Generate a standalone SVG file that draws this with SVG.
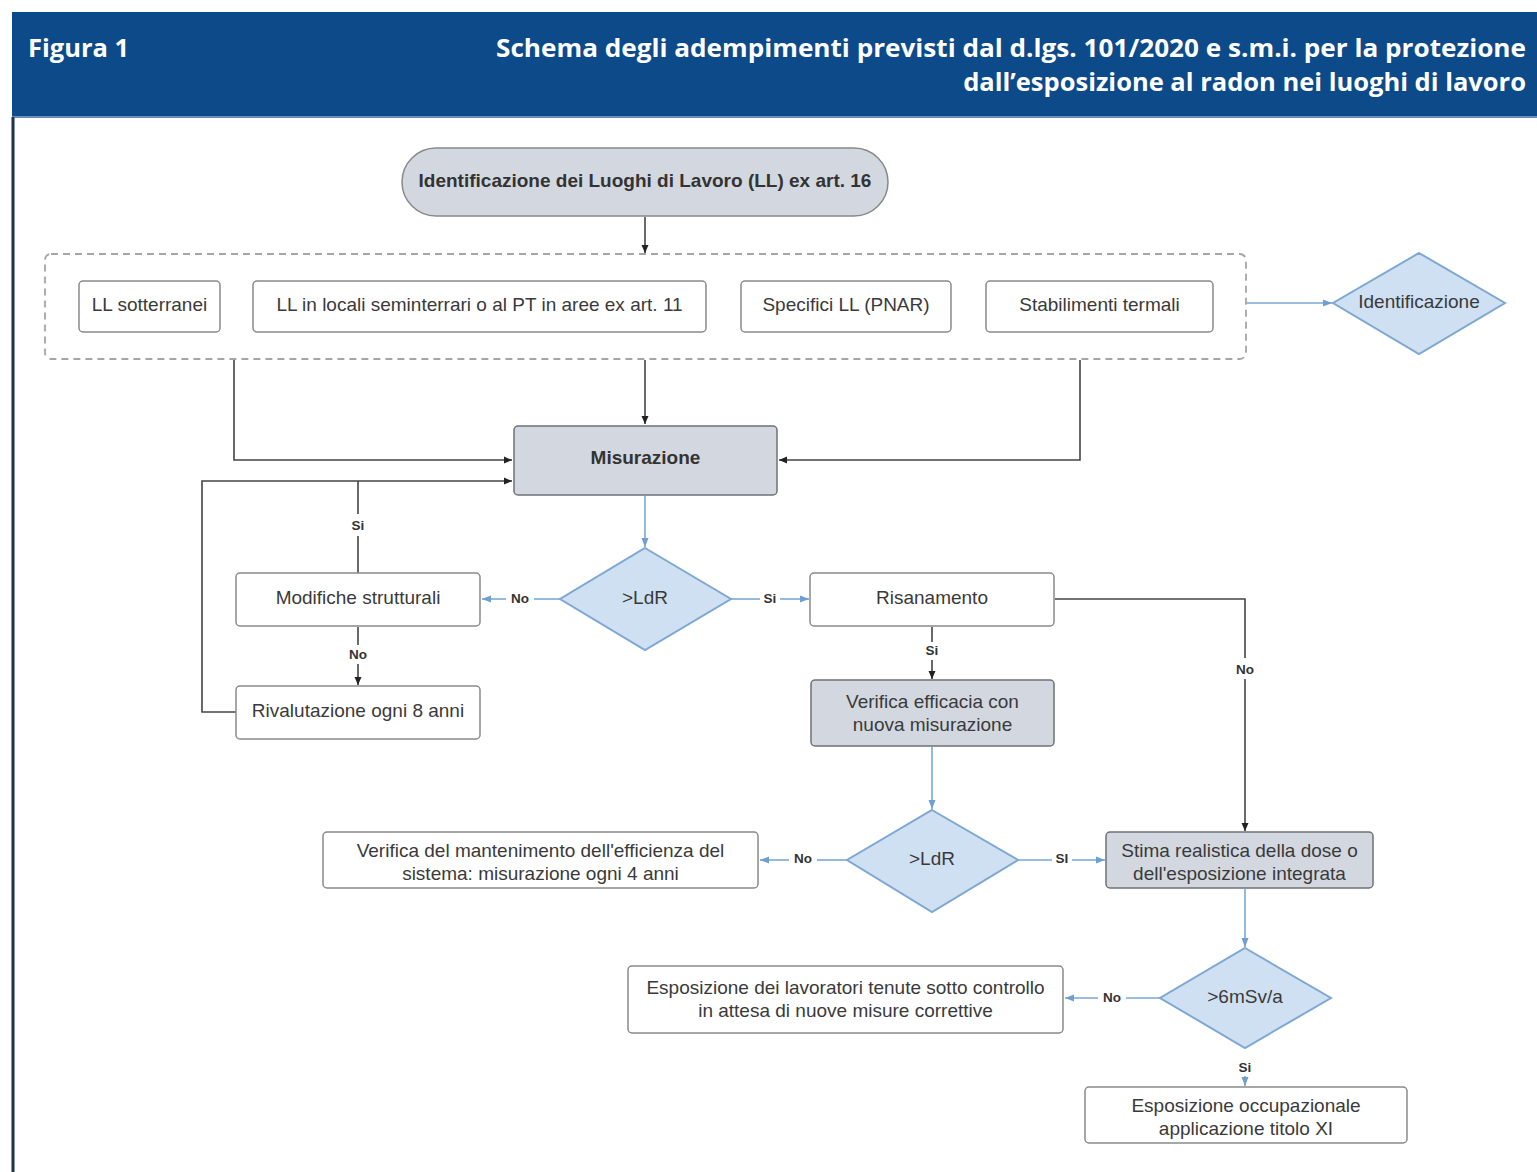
<svg xmlns="http://www.w3.org/2000/svg" width="1537" height="1172" viewBox="0 0 1537 1172">
<defs>
<marker id="ab" markerWidth="10" markerHeight="10" refX="9" refY="5" orient="auto" markerUnits="userSpaceOnUse"><path d="M1,1.5 L9,5 L1,8.5 Z" fill="#222"/></marker>
<marker id="abl" markerWidth="12" markerHeight="10" refX="10" refY="5" orient="auto" markerUnits="userSpaceOnUse"><path d="M1,1.5 L10,5 L1,8.5 Z" fill="#6d9fcf"/></marker>
</defs>
<style>
.box{fill:#fff;stroke:#8a8a8a;stroke-width:1.5}
.gbox{fill:#d3d8e0;stroke:#6e7175;stroke-width:1.5}
.dia{fill:#cfe0f2;stroke:#7ea8d2;stroke-width:2}
.t{font-family:"Liberation Sans",Arial,sans-serif;font-size:19px;fill:#3a3a3a;text-anchor:middle}
.tb{font-family:"Liberation Sans",Arial,sans-serif;font-size:19px;font-weight:bold;fill:#333;text-anchor:middle}
.lb{font-family:"Liberation Sans",Arial,sans-serif;font-size:13.5px;font-weight:bold;fill:#333;text-anchor:middle}
.k{fill:none;stroke:#444;stroke-width:1.6}
.b{fill:none;stroke:#7aa9d6;stroke-width:1.6}
.h{font-family:"Open Sans","Noto Sans",sans-serif;font-weight:bold;font-size:25.5px;fill:#fff}
</style>
<rect width="1537" height="1172" fill="#fff"/>
<rect x="12" y="12" width="1525" height="105" fill="#0c4a8a"/>
<line x1="12" y1="117" x2="1537" y2="117" stroke="#6b8fb8" stroke-width="2"/>
<line x1="13" y1="117" x2="13" y2="1172" stroke="#1c3350" stroke-width="3"/>
<text class="h" x="28" y="57">Figura 1</text>
<text class="h" x="1526" y="57" text-anchor="end" textLength="1030" lengthAdjust="spacingAndGlyphs">Schema degli adempimenti previsti dal d.lgs. 101/2020 e s.m.i. per la protezione</text>
<text class="h" x="1526" y="91" text-anchor="end">dall’esposizione al radon nei luoghi di lavoro</text>

<g id="connectors">
<line class="k" x1="645" y1="217" x2="645" y2="253" marker-end="url(#ab)"/>
<line class="b" x1="1247" y1="303" x2="1332" y2="303" marker-end="url(#abl)"/>
<polyline class="k" points="234,360 234,460 512,460" marker-end="url(#ab)"/>
<line class="k" x1="645" y1="360" x2="645" y2="424" marker-end="url(#ab)"/>
<polyline class="k" points="1080,360 1080,460 779,460" marker-end="url(#ab)"/>
<polyline class="k" points="236,712 202,712 202,481 512,481" marker-end="url(#ab)"/>
<line class="k" x1="358" y1="573" x2="358" y2="536"/>
<line class="k" x1="358" y1="514" x2="358" y2="481"/>
<text class="lb" x="358" y="530">Si</text>
<line class="b" x1="645" y1="496" x2="645" y2="547" marker-end="url(#abl)"/>
<line class="b" x1="560" y1="599" x2="534" y2="599"/>
<line class="b" x1="506" y1="599" x2="482" y2="599" marker-end="url(#abl)"/>
<text class="lb" x="520" y="603">No</text>
<line class="k" x1="358" y1="627" x2="358" y2="645"/>
<line class="k" x1="358" y1="664" x2="358" y2="685" marker-end="url(#ab)"/>
<text class="lb" x="358" y="659">No</text>
<line class="b" x1="731" y1="599" x2="760" y2="599"/>
<line class="b" x1="780" y1="599" x2="809" y2="599" marker-end="url(#abl)"/>
<text class="lb" x="770" y="603">Si</text>
<polyline class="k" points="1055,599 1245,599 1245,658"/>
<line class="k" x1="1245" y1="679" x2="1245" y2="831" marker-end="url(#ab)"/>
<text class="lb" x="1245" y="674">No</text>
<line class="k" x1="932" y1="627" x2="932" y2="642"/>
<line class="k" x1="932" y1="660" x2="932" y2="679" marker-end="url(#ab)"/>
<text class="lb" x="932" y="655">Si</text>
<line class="b" x1="932" y1="747" x2="932" y2="809" marker-end="url(#abl)"/>
<line class="b" x1="847" y1="860" x2="817" y2="860"/>
<line class="b" x1="789" y1="860" x2="760" y2="860" marker-end="url(#abl)"/>
<text class="lb" x="803" y="863">No</text>
<line class="b" x1="1018" y1="860" x2="1052" y2="860"/>
<line class="b" x1="1072" y1="860" x2="1105" y2="860" marker-end="url(#abl)"/>
<text class="lb" x="1062" y="863">SI</text>
<line class="b" x1="1245" y1="889" x2="1245" y2="947" marker-end="url(#abl)"/>
<line class="b" x1="1160" y1="998" x2="1126" y2="998"/>
<line class="b" x1="1098" y1="998" x2="1065" y2="998" marker-end="url(#abl)"/>
<text class="lb" x="1112" y="1002">No</text>
<line class="b" x1="1245" y1="1076" x2="1245" y2="1086" marker-end="url(#abl)"/>
<text class="lb" x="1245" y="1072">Si</text>
</g>

<g id="start">
<rect x="402" y="148" width="486" height="68" rx="34" fill="#d3d8e0" stroke="#888" stroke-width="1.5"/>
<text class="tb" x="645" y="187">Identificazione dei Luoghi di Lavoro (LL) ex art. 16</text>
</g>
<g id="group-ll">
<rect x="45" y="254" width="1201" height="105" rx="6" fill="none" stroke="#a5a5a5" stroke-width="1.8" stroke-dasharray="7,5"/>
</g>
<g id="n-sotterranei">
<rect class="box" x="79" y="281" width="141" height="51" rx="4"/>
<text class="t" x="149.5" y="311">LL sotterranei</text>
</g>
<g id="n-seminterrati">
<rect class="box" x="253" y="281" width="453" height="51" rx="4"/>
<text class="t" x="479.5" y="311">LL in locali seminterrari o al PT in aree ex art. 11</text>
</g>
<g id="n-pnar">
<rect class="box" x="741" y="281" width="210" height="51" rx="4"/>
<text class="t" x="846" y="311">Specifici LL (PNAR)</text>
</g>
<g id="n-termali">
<rect class="box" x="986" y="281" width="227" height="51" rx="4"/>
<text class="t" x="1099.5" y="311">Stabilimenti termali</text>
</g>
<g id="d-identificazione">
<polygon class="dia" points="1419,253 1505,303 1419,354 1333,303"/>
<text class="t" x="1419" y="308">Identificazione</text>
</g>
<g id="n-misurazione">
<rect class="gbox" x="514" y="426" width="263" height="69" rx="4" stroke="#555" stroke-width="2"/>
<text class="tb" x="645.5" y="464">Misurazione</text>
</g>
<g id="d-ldr1">
<polygon class="dia" points="645,548 731,599 645,650 560,599"/>
<text class="t" x="645" y="604">&gt;LdR</text>
</g>
<g id="n-modifiche">
<rect class="box" x="236" y="573" width="244" height="53" rx="4"/>
<text class="t" x="358" y="604">Modifiche strutturali</text>
</g>
<g id="n-rivalutazione">
<rect class="box" x="236" y="686" width="244" height="53" rx="4"/>
<text class="t" x="358" y="717">Rivalutazione ogni 8 anni</text>
</g>
<g id="n-risanamento">
<rect class="box" x="810" y="573" width="244" height="53" rx="4"/>
<text class="t" x="932" y="604">Risanamento</text>
</g>
<g id="n-verifica-efficacia">
<rect class="gbox" x="811" y="680" width="243" height="66" rx="4"/>
<text class="t" x="932.5" y="708">Verifica efficacia con</text>
<text class="t" x="932.5" y="731">nuova misurazione</text>
</g>
<g id="d-ldr2">
<polygon class="dia" points="932,810 1018,860 932,912 847,860"/>
<text class="t" x="932" y="865">&gt;LdR</text>
</g>
<g id="n-mantenimento">
<rect class="box" x="323" y="832" width="435" height="56" rx="4"/>
<text class="t" x="540.5" y="857">Verifica del mantenimento dell'efficienza del</text>
<text class="t" x="540.5" y="880">sistema: misurazione ogni 4 anni</text>
</g>
<g id="n-stima">
<rect class="gbox" x="1106" y="832" width="267" height="56" rx="4"/>
<text class="t" x="1239.5" y="857">Stima realistica della dose o</text>
<text class="t" x="1239.5" y="880">dell'esposizione integrata</text>
</g>
<g id="d-6msv">
<polygon class="dia" points="1245,948 1331,998 1245,1048 1160,998"/>
<text class="t" x="1245" y="1003">&gt;6mSv/a</text>
</g>
<g id="n-controllo">
<rect class="box" x="628" y="966" width="435" height="67" rx="4"/>
<text class="t" x="845.5" y="994">Esposizione dei lavoratori tenute sotto controllo</text>
<text class="t" x="845.5" y="1017">in attesa di nuove misure correttive</text>
</g>
<g id="n-occupazionale">
<rect class="box" x="1085" y="1087" width="322" height="56" rx="4"/>
<text class="t" x="1246" y="1112">Esposizione occupazionale</text>
<text class="t" x="1246" y="1135">applicazione titolo XI</text>
</g>
</svg>
